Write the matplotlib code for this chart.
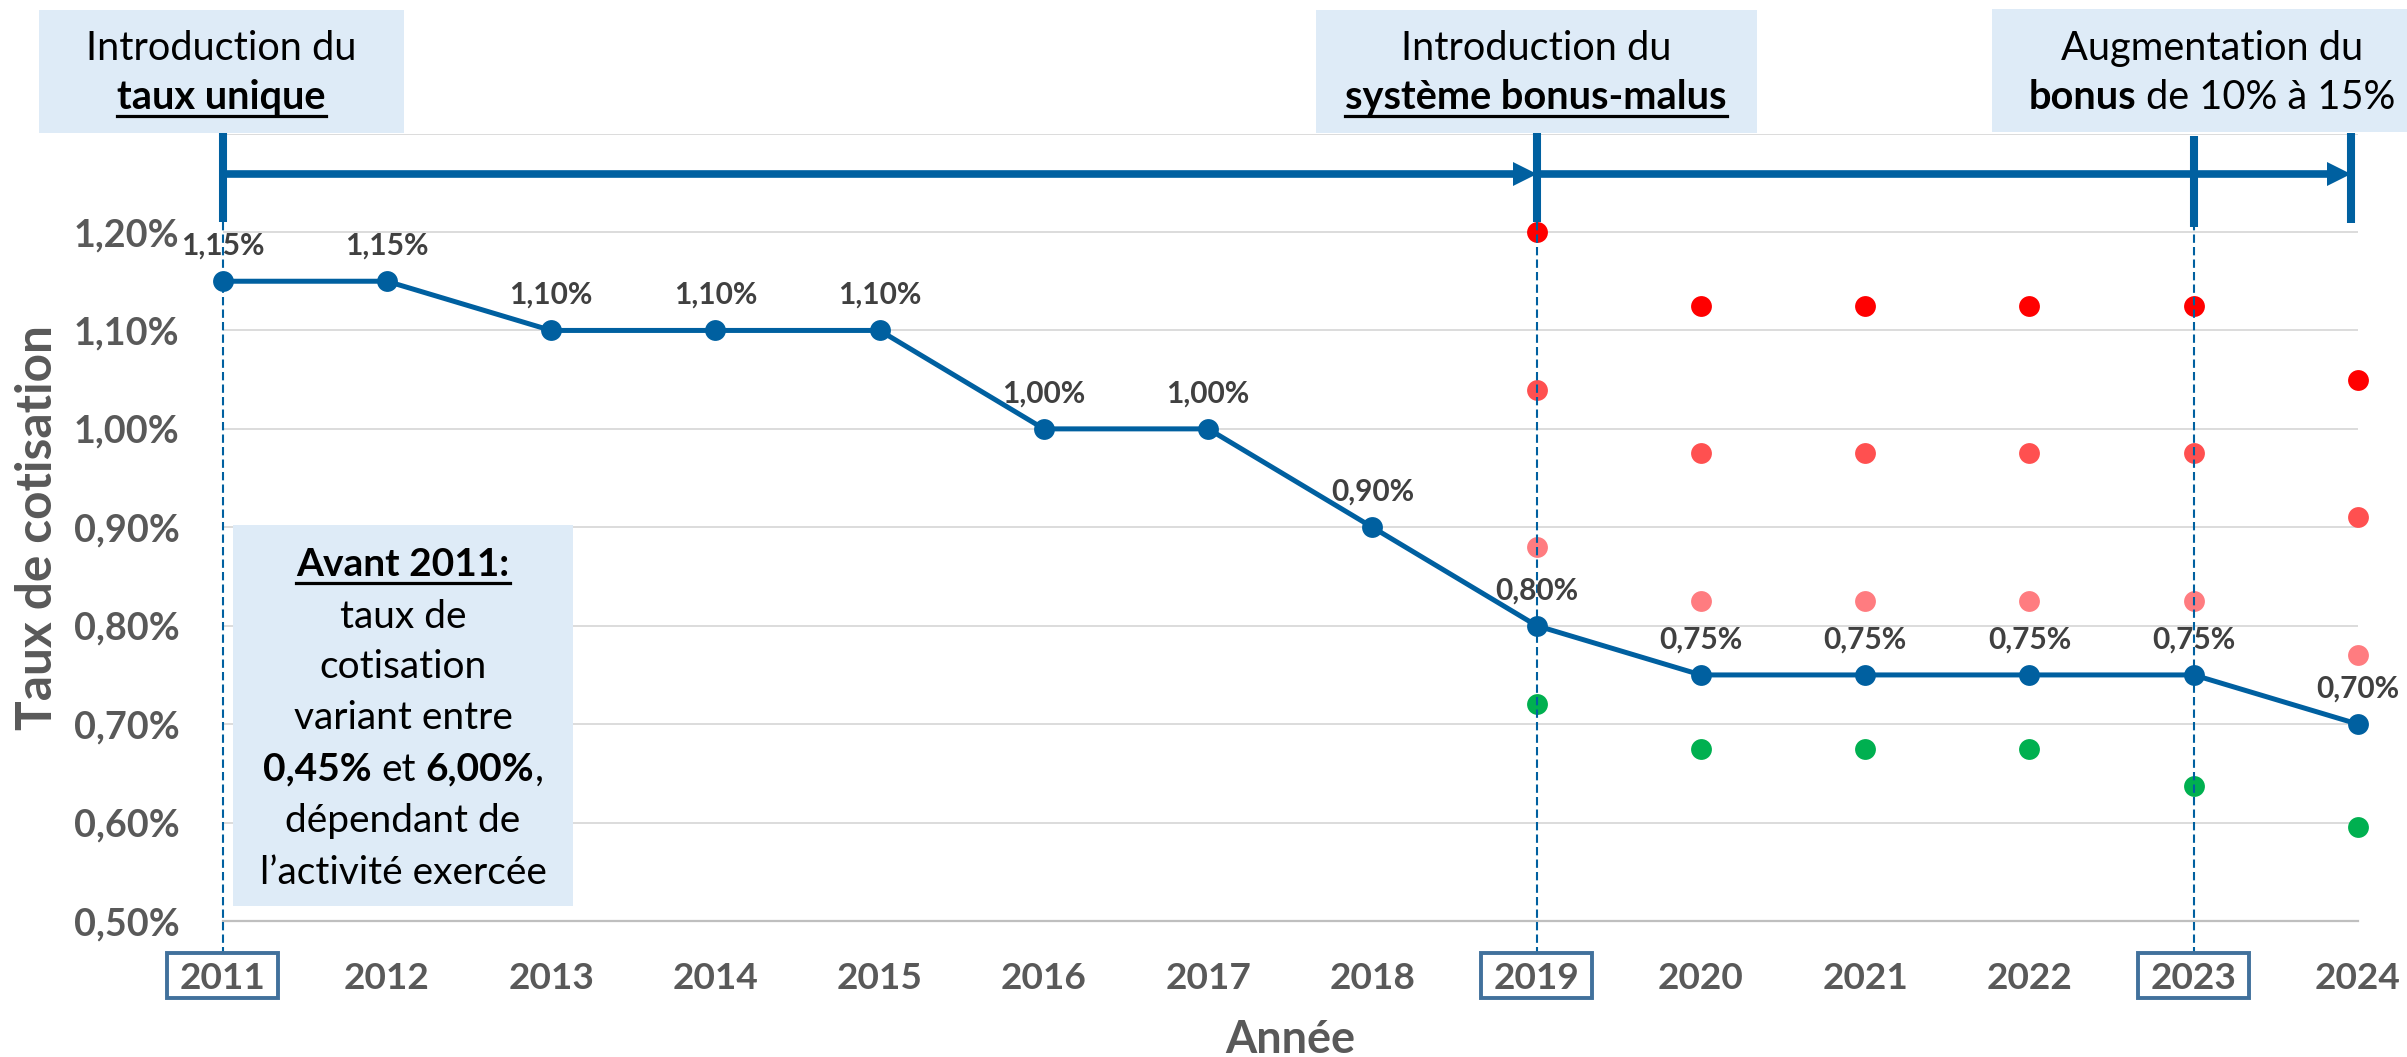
import matplotlib
matplotlib.use('Agg')
import matplotlib.pyplot as plt
from matplotlib.patches import Rectangle
from matplotlib.lines import Line2D
import matplotlib.transforms as mtrans

W, H = 2407, 1057
DPI = 100
FONT = 'Lato'

# ---------------- data ----------------
years = [2011, 2012, 2013, 2014, 2015, 2016, 2017, 2018, 2019, 2020, 2021, 2022, 2023, 2024]
taux = [1.15, 1.15, 1.10, 1.10, 1.10, 1.00, 1.00, 0.90, 0.80, 0.75, 0.75, 0.75, 0.75, 0.70]

bm_years = [2019, 2020, 2021, 2022, 2023, 2024]
malus_max = [1.20, 1.125, 1.125, 1.125, 1.125, 1.05]
malus_mid = [1.04, 0.975, 0.975, 0.975, 0.975, 0.91]
malus_low = [0.88, 0.825, 0.825, 0.825, 0.825, 0.77]
bonus = [0.72, 0.675, 0.675, 0.675, 0.6375, 0.595]

y_ticks = [0.50, 0.60, 0.70, 0.80, 0.90, 1.00, 1.10, 1.20, 1.30]
y_tick_labels = ['0,50%', '0,60%', '0,70%', '0,80%', '0,90%', '1,00%', '1,10%', '1,20%', '']
x_tick_labels = [str(y) for y in years]
boxed_years = [2011, 2019, 2023]
timeline_years = [2011, 2019, 2023, 2024]

# ---------------- styles ----------------
BLUE = '#0060A0'
TICK_GRAY = '#595959'
LABEL_GRAY = '#404040'
BOX_FILL = '#DEEBF7'
BOX_EDGE = '#41719C'
C_MAX, C_MID, C_LOW, C_BONUS = '#FF0000', '#FF5050', '#FF7C80', '#00B050'

fig = plt.figure(figsize=(W / DPI, H / DPI), dpi=DPI)
renderer = fig.canvas.get_renderer()


def text_w(s, size, weight='normal'):
    t = fig.text(0, 0, s, fontsize=size, fontweight=weight, family=FONT)
    w = t.get_window_extent(renderer=renderer).width
    t.remove()
    return w


def fit(s, target, weight='normal'):
    return 20.0 * target / text_w(s, 20, weight)


def fx(px):
    return px / W


def fyf(py):
    return 1 - py / H


# axes geometry (pixels, top-left origin)
AX_L, AX_R, AX_B, AX_T = 222.6, 2358.0, 921.0, 133.6
ax = fig.add_axes([fx(AX_L), fyf(AX_B), (AX_R - AX_L) / W, (AX_B - AX_T) / H])
ax.set_xlim(2011, 2024)
ax.set_ylim(0.5, 1.3)


def fa(py):
    return (AX_B - py) / (AX_B - AX_T)


px_per_year = (AX_R - AX_L) / 13.0

# font sizes fitted to reference widths
fs_ytick = fit('1,20%', 106, 'bold')
fs_xtick = fit('2017', 86, 'bold')
fs_dlab = fit('1,10%', 84, 'bold')
fs_xlabel = fit('Année', 130, 'bold')
fs_ylabel = fit('Taux de cotisation', 405, 'bold')
fs_box = fit('Introduction du', 272)
fs_box4 = fit('l\u2019activité exercée', 288)

# grid & spines
for s in ['top', 'right', 'left']:
    ax.spines[s].set_visible(False)
ax.spines['bottom'].set_color('#BFBFBF')
ax.spines['bottom'].set_linewidth(1.6)
ax.set_yticks(y_ticks)
ax.set_yticklabels(y_tick_labels)
ax.set_xticks(years)
ax.set_xticklabels(x_tick_labels)
ax.grid(axis='y', color='#D9D9D9', lw=1.3, zorder=0)
ax.set_axisbelow(True)
ax.tick_params(axis='y', length=0, pad=43 / 1.389, labelsize=fs_ytick, labelcolor=TICK_GRAY)
ax.tick_params(axis='x', length=0, pad=68 / 1.389, labelsize=fs_xtick, labelcolor=TICK_GRAY)
for lbl in ax.get_yticklabels() + ax.get_xticklabels():
    lbl.set_fontweight('bold')
    lbl.set_family(FONT)
for lbl in ax.get_xticklabels():
    lbl.set_va('baseline')

# bonus-malus dots
ax.plot(bm_years, malus_max, 'o', ls='none', color=C_MAX, ms=15, mew=0, zorder=3, clip_on=False)
ax.plot(bm_years, malus_mid, 'o', ls='none', color=C_MID, ms=15, mew=0, zorder=3, clip_on=False)
ax.plot(bm_years, malus_low, 'o', ls='none', color=C_LOW, ms=15, mew=0, zorder=3, clip_on=False)
ax.plot(bm_years, bonus, 'o', ls='none', color=C_BONUS, ms=15, mew=0, zorder=3, clip_on=False)

# dashed vertical reference lines
xt = ax.get_xaxis_transform()
for yr in boxed_years:
    ax.plot([yr, yr], [fa(222), fa(953)], transform=xt, color=BLUE, lw=1.5,
            dashes=(4, 2), zorder=4, clip_on=False)

# main series
ax.plot(years, taux, color=BLUE, lw=3.6, marker='o', ms=15, mew=0, zorder=5, clip_on=False)
for x, v in zip(years, taux):
    ax.annotate(f"{v:.2f}".replace('.', ',') + '%', (x, v), xytext=(0, 19),
                textcoords='offset points', ha='center', va='baseline',
                fontsize=fs_dlab, fontweight='bold', color=LABEL_GRAY, family=FONT,
                zorder=6, annotation_clip=False)

# timeline at the top
tops = {2011: (133, 222), 2019: (133, 222), 2023: (136, 227), 2024: (133, 223)}
for yr in timeline_years:
    t0, t1 = tops[yr]
    xx = yr - 0.04 if yr == 2024 else yr
    ax.plot([xx, xx], [fa(t0), fa(t1)], transform=xt, color=BLUE, lw=5.8,
            solid_capstyle='butt', clip_on=False, zorder=6)
y_arrow = fa(173.7)
head = 12.0 / px_per_year
ax.plot([2011, 2019 - 2 * head], [y_arrow, y_arrow], transform=xt, color=BLUE, lw=5.5,
        solid_capstyle='butt', clip_on=False, zorder=6)
ax.plot([2019, 2023.96 - 2 * head], [y_arrow, y_arrow], transform=xt, color=BLUE, lw=5.5,
        solid_capstyle='butt', clip_on=False, zorder=6)
for tip in [2019, 2023.96]:
    ax.plot([tip - head], [y_arrow], transform=xt, marker='>', ms=17, mew=0, color=BLUE,
            clip_on=False, zorder=6)

# boxes around selected x tick labels
bt = mtrans.blended_transform_factory(ax.transData, fig.transFigure)
bw = 111.0 / px_per_year
for yr in boxed_years:
    r = Rectangle((yr - bw / 2, fyf(998)), bw, 45.0 / H, transform=bt, fill=False,
                  ec=BOX_EDGE, lw=2.8, clip_on=False, zorder=7)
    ax.add_artist(r)

# axis titles
fig.text(fx(1290), fyf(1053), 'Année', ha='center', va='baseline', fontsize=fs_xlabel,
         fontweight='bold', color=TICK_GRAY, family=FONT)
fig.text(fx(51.7), fyf((AX_B + AX_T) / 2), 'Taux de cotisation', rotation=90,
         rotation_mode='anchor', ha='center', va='baseline', fontsize=fs_ylabel,
         fontweight='bold', color=TICK_GRAY, family=FONT)


# rich text helper
def rich(xc, yb, parts, size, color='black', zorder=10):
    sp = text_w('n n', size) - text_w('nn', size)
    widths = []
    total = 0
    for (txt, bold, ul, space) in parts:
        w = text_w(txt, size, 'bold' if bold else 'normal')
        widths.append(w)
        total += w + (sp if space else 0)
    x = xc - total / 2
    for (txt, bold, ul, space), w in zip(parts, widths):
        fig.text(fx(x), fyf(yb), txt, ha='left', va='baseline', fontsize=size,
                 fontweight='bold' if bold else 'normal', color=color, family=FONT,
                 zorder=zorder)
        if ul:
            uy = yb + 0.2 * size * 1.389 * 0.8
            fig.add_artist(Line2D([fx(x), fx(x + w)], [fyf(uy), fyf(uy)],
                                  transform=fig.transFigure, color=color,
                                  lw=2.3, zorder=zorder))
        x += w + (sp if space else 0)


def box(x0, y0, x1, y1):
    fig.add_artist(Rectangle((fx(x0), fyf(y1)), fx(x1) - fx(x0), fyf(y0) - fyf(y1),
                             transform=fig.transFigure, fc=BOX_FILL, ec='none', zorder=8))


# annotation boxes
box(39, 10, 404, 133)
rich(221.5, 60, [('Introduction du', False, False, False)], fs_box)
rich(221.5, 109.5, [('taux unique', True, True, False)], fs_box)

box(1315.5, 10, 1757, 133)
rich(1536, 60, [('Introduction du', False, False, False)], fs_box)
rich(1536, 109.5, [('système bonus-malus', True, True, False)], fs_box)

box(1992, 9, 2407, 132)
rich(2212, 60, [('Augmentation du', False, False, False)], fs_box)
rich(2212, 109.5, [('bonus', True, False, True), ('de 10% à 15%', False, False, False)], fs_box)

box(233, 525, 573, 906)
b4 = [576.4, 627.9, 677.6, 729.1, 780.6, 832.1, 883.7]
rich(403, b4[0], [('Avant 2011:', True, True, False)], fs_box4)
rich(403, b4[1], [('taux de', False, False, False)], fs_box4)
rich(403, b4[2], [('cotisation', False, False, False)], fs_box4)
rich(403, b4[3], [('variant entre', False, False, False)], fs_box4)
rich(403, b4[4], [('0,45%', True, False, True), ('et', False, False, True),
                  ('6,00%', True, False, False), (',', False, False, False)], fs_box4)
rich(403, b4[5], [('dépendant de', False, False, False)], fs_box4)
rich(403, b4[6], [('l\u2019activité exercée', False, False, False)], fs_box4)

fig.savefig('out.png', dpi=DPI)
